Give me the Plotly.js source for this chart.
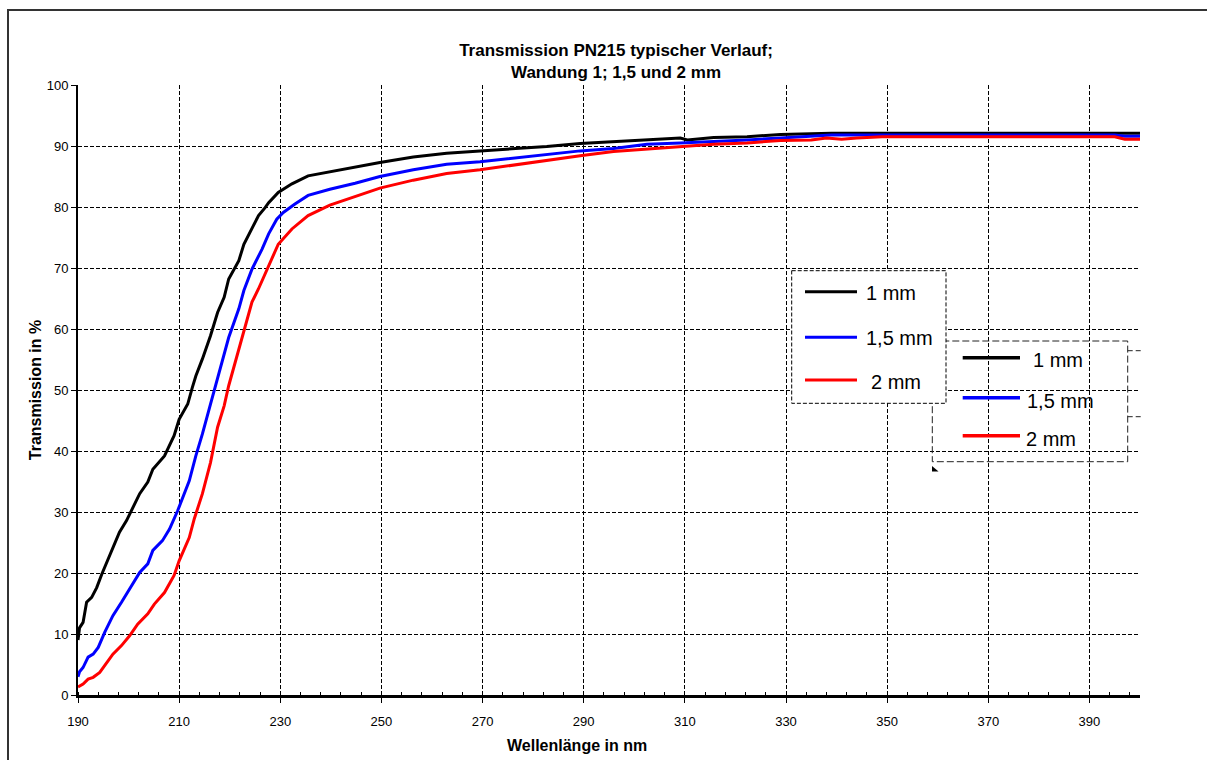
<!DOCTYPE html>
<html>
<head>
<meta charset="utf-8">
<script src="https://cdn.plot.ly/plotly-3.0.1.min.js"></script>
<style>
  html, body { margin: 0; padding: 0; background: #ffffff; }
  #chart { width: 1207px; height: 760px; }
</style>
</head>
<body>
<div id="chart"></div>
<script>
// ---------------- data ----------------
const chartTitle = 'Transmission PN215 typischer Verlauf;<br>Wandung 1; 1,5 und 2 mm';
const xAxisTitle = 'Wellenlänge in nm';
const yAxisTitle = 'Transmission in %';
const seriesNames = ['1 mm', '1,5 mm', '2 mm'];
const legend2Names = ['1 mm', '1,5 mm', '2 mm'];
const seriesColors = ['#000000', '#0000ff', '#ff0000'];

const wl1mm = [190, 190.3, 191.0, 191.7, 192.7, 193.7, 194.7, 195.6, 196.9, 198.2, 199.6, 200.9, 202.2, 203.8, 204.8, 207.1, 209.0, 210.0, 211.7, 212.6, 213.3, 214.6, 216.2, 217.6, 218.9, 219.8, 221.8, 222.8, 224.4, 225.7, 227.0, 227.7, 229.6, 232.3, 235.5, 239.8, 244.8, 249.7, 256.3, 262.9, 269.5, 276.1, 282.7, 289.3, 295.9, 302.5, 309.1, 310.5, 315.7, 322.3, 328.9, 339, 400];
const t1mm  = [9.0, 11.0, 11.9, 15.2, 16.0, 17.6, 19.8, 21.5, 24.2, 26.7, 28.6, 30.8, 33.0, 34.9, 37.0, 39.2, 42.5, 45.2, 47.7, 50.4, 52.3, 55.1, 58.9, 62.7, 65.2, 68.2, 71.2, 73.9, 76.4, 78.6, 79.9, 80.7, 82.4, 83.8, 85.1, 85.8, 86.6, 87.3, 88.2, 88.8, 89.2, 89.5, 89.9, 90.4, 90.7, 90.9, 91.3, 91.0, 91.4, 91.5, 91.9, 92.1, 92.1];

const wl15mm = [190, 190.3, 191.0, 192.0, 193.0, 194.0, 195.3, 196.9, 198.6, 200.2, 202.2, 203.8, 204.8, 206.7, 208.1, 209.7, 211.0, 212.0, 213.3, 214.6, 216.2, 217.6, 218.5, 219.8, 221.8, 222.8, 224.4, 226.4, 227.7, 229.3, 230.6, 232.9, 235.5, 239.8, 244.8, 249.7, 256.3, 262.9, 269.5, 276.1, 282.7, 289.3, 295.9, 302.5, 309.1, 315.7, 322.3, 328.9, 339, 395, 397, 400];
const t15mm  = [3.0, 3.8, 4.5, 6.2, 6.7, 7.8, 10.3, 13.0, 15.2, 17.4, 20.1, 21.5, 23.7, 25.3, 27.2, 30.2, 33.0, 35.1, 39.2, 42.8, 47.7, 51.8, 54.5, 58.6, 63.3, 66.3, 69.8, 73.1, 75.6, 78.0, 79.1, 80.5, 81.9, 82.9, 83.9, 85.0, 86.1, 87.0, 87.4, 88.0, 88.7, 89.2, 89.6, 90.3, 90.5, 90.7, 91.0, 91.3, 91.8, 91.8, 91.6, 91.6];

const wl2mm = [190, 191.0, 192.0, 193.0, 194.3, 195.6, 196.9, 198.6, 200.2, 201.8, 203.8, 205.1, 207.1, 209.0, 210.0, 212.0, 213.0, 214.6, 216.2, 217.6, 218.9, 219.8, 221.1, 222.8, 224.4, 225.7, 227.7, 229.6, 232.3, 235.5, 239.8, 244.8, 249.7, 256.3, 262.9, 269.5, 276.1, 282.7, 289.3, 295.9, 302.5, 309.1, 315.7, 322.3, 328.9, 335, 338, 341, 344, 349, 395, 397, 400];
const t2mm  = [1.3, 1.8, 2.6, 2.9, 3.7, 5.3, 6.7, 8.1, 9.7, 11.6, 13.3, 14.9, 16.8, 19.6, 22.0, 25.8, 28.9, 33.0, 38.1, 43.9, 47.4, 50.7, 54.5, 59.7, 64.4, 66.6, 70.4, 73.9, 76.4, 78.6, 80.3, 81.7, 83.1, 84.4, 85.5, 86.1, 86.9, 87.6, 88.4, 89.1, 89.5, 90.0, 90.3, 90.5, 90.9, 91.0, 91.3, 91.1, 91.3, 91.5, 91.5, 91.1, 91.1];

const xTickStart = 190, xTickStep = 20, xMinorStep = 4;
const xRange = [190, 400];
const yRange = [0, 100];
const yTickStep = 10;

// ---------------- layout geometry (pixels) ----------------
const W = 1207, H = 760;
const L = 78, R = 1140, T = 85, B = 695;
const px2x = p => (p - L) / (R - L);
const py2y = p => (B - p) / (B - T);

const FONT = 'Liberation Sans, Arial, sans-serif';

const xs = [wl1mm, wl15mm, wl2mm];
const ys = [t1mm, t15mm, t2mm];

const traces = xs.map((x, i) => ({
  type: 'scatter', mode: 'lines', name: seriesNames[i],
  x: x, y: ys[i],
  line: { color: seriesColors[i], width: 3 },
  hoverinfo: 'x+y+name'
}));

// legend boxes
const leg1 = { x0: 791.7, x1: 946, y0: 270.7, y1: 403.3, lx0: 805, lx1: 857, tx: [864, 864, 869], ly: [291.7, 337.3, 380], ty: [293, 338, 382] };
const leg2 = { x0: 932.3, x1: 1127.7, y0: 341, y1: 461.7, lx0: 962.7, lx1: 1020, tx: [1031, 1025, 1024], ly: [357.7, 397.7, 435.7], ty: [360, 401, 439] };

const shapes = [];
const annotations = [];

// outer frame (left and top)
shapes.push({ type: 'line', xref: 'paper', yref: 'paper', x0: px2x(8), x1: px2x(8), y0: py2y(10), y1: py2y(765), line: { color: '#333333', width: 2 }, layer: 'above' });
shapes.push({ type: 'line', xref: 'paper', yref: 'paper', x0: px2x(7), x1: px2x(1215), y0: py2y(10), y1: py2y(10), line: { color: '#333333', width: 2 }, layer: 'above' });

// legend 2 frame (transparent, long dashes)
shapes.push({ type: 'rect', xref: 'paper', yref: 'paper', x0: px2x(leg2.x0), x1: px2x(leg2.x1), y0: py2y(leg2.y0), y1: py2y(leg2.y1), line: { color: '#222222', width: 1, dash: '7px,3px' }, layer: 'above' });
shapes.push({ type: 'line', xref: 'paper', yref: 'paper', x0: px2x(1127.7), x1: px2x(1142), y0: py2y(350.7), y1: py2y(350.7), line: { color: '#222222', width: 1, dash: '5px,3px' }, layer: 'above' });
shapes.push({ type: 'line', xref: 'paper', yref: 'paper', x0: px2x(1127.7), x1: px2x(1142), y0: py2y(416.7), y1: py2y(416.7), line: { color: '#222222', width: 1, dash: '5px,3px' }, layer: 'above' });
shapes.push({ type: 'path', xref: 'paper', yref: 'paper',
  path: 'M ' + px2x(932) + ' ' + py2y(466) + ' L ' + px2x(938.5) + ' ' + py2y(471.5) + ' L ' + px2x(932) + ' ' + py2y(471.5) + ' Z',
  fillcolor: '#000000', line: { width: 0 }, layer: 'above' });

// legend 1 frame (white, dashed)
shapes.push({ type: 'rect', xref: 'paper', yref: 'paper', x0: px2x(leg1.x0), x1: px2x(leg1.x1), y0: py2y(leg1.y0), y1: py2y(leg1.y1), fillcolor: '#ffffff', line: { color: '#000000', width: 1, dash: '4px,2px' }, layer: 'above' });

function legendEntries(leg, names, lw) {
  names.forEach((n, i) => {
    shapes.push({ type: 'line', xref: 'paper', yref: 'paper', x0: px2x(leg.lx0), x1: px2x(leg.lx1), y0: py2y(leg.ly[i]), y1: py2y(leg.ly[i]), line: { color: seriesColors[i], width: lw }, layer: 'above' });
    annotations.push({ xref: 'paper', yref: 'paper', x: px2x(leg.tx[i]), y: py2y(leg.ty[i]), xanchor: 'left', yanchor: 'middle', text: n, showarrow: false, font: { family: FONT, size: 20, color: '#000000' } });
  });
}
legendEntries(leg1, seriesNames, 3);
legendEntries(leg2, legend2Names, 3.5);

// x axis title (placed as in original, off-centre)
annotations.push({ xref: 'paper', yref: 'paper', x: px2x(577), y: py2y(745), xanchor: 'center', yanchor: 'middle', text: xAxisTitle, showarrow: false, font: { family: FONT, size: 16, color: '#000000', weight: 'bold' } });

const layout = {
  width: W, height: H,
  margin: { l: L, r: W - R, t: T, b: H - B, pad: 0 },
  paper_bgcolor: '#ffffff', plot_bgcolor: '#ffffff',
  showlegend: false,
  title: { text: chartTitle, x: 616 / W, xref: 'container', xanchor: 'center', y: 1 - 56 / H, yref: 'container', yanchor: 'middle', font: { family: FONT, size: 17, color: '#000000', weight: 'bold' } },
  xaxis: {
    range: xRange, tick0: xTickStart, dtick: xTickStep, tickmode: 'linear',
    showgrid: true, gridcolor: '#000000', gridwidth: 1, griddash: '4px,2px',
    showline: true, linecolor: '#000000', linewidth: 2.5, zeroline: false,
    ticks: 'outside', ticklen: 5, tickwidth: 1, tickcolor: '#000000',
    ticklabelstandoff: 8,
    minor: { tick0: xTickStart, dtick: xMinorStep, ticks: 'inside', ticklen: 3, tickwidth: 1, tickcolor: '#000000', showgrid: false },
    tickfont: { family: FONT, size: 13, color: '#000000' },
    fixedrange: true
  },
  yaxis: {
    range: yRange, tick0: 0, dtick: yTickStep, tickmode: 'linear',
    showgrid: true, gridcolor: '#000000', gridwidth: 1, griddash: '4px,2px',
    showline: true, linecolor: '#000000', linewidth: 2, zeroline: false,
    ticks: 'outside', ticklen: 5, tickwidth: 1, tickcolor: '#000000',
    tickfont: { family: FONT, size: 13, color: '#000000' },
    title: { text: yAxisTitle, standoff: 1, font: { family: FONT, size: 16, color: '#000000', weight: 'bold' } },
    fixedrange: true
  },
  shapes: shapes,
  annotations: annotations
};

Plotly.newPlot('chart', traces, layout, { displayModeBar: false, staticPlot: true });
</script>
</body>
</html>
